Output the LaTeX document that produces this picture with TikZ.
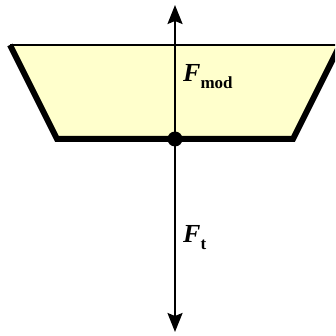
\documentclass[tikz,border=0pt]{standalone}
\usepackage{fontspec}
\setmainfont{Liberation Serif}
\definecolor{amareloPeca}{RGB}{255,255,204}
\usetikzlibrary{arrows.meta,positioning}
\newcommand{\indice}[1]{\raisebox{-7pt}{\fontsize{17}{19}\selectfont\bfseries #1}}
\tikzset{
  peca/.style={fill=amareloPeca, draw=none},
  borda/.style={line width=6pt, line join=miter, black},
  bordafina/.style={line width=2.5pt, black},
  ponto/.style={circle, fill=black, inner sep=0pt, minimum size=15pt},
  forca/.style={-{Stealth[length=19pt, width=15pt, inset=3pt]}, line width=2pt},
  rotulo/.style={font=\fontsize{26}{28}\selectfont\bfseries, inner sep=0pt},
}

\begin{document}
\begin{tikzpicture}[x=1pt, y=-1pt]
  \useasboundingbox (0,0) rectangle (335,336);
  \clip (0,0) rectangle (335,336);
  \fill[peca] (10,45) -- (340,45) -- (293,139) -- (57,139) -- cycle;
  \draw[bordafina] (10,45) -- (340,45);
  \draw[borda] (10,45) -- (57,139) -- (293,139) -- (340,45);
  \node[ponto] (p) at (175,139) {};
  \coordinate (cima) at (175,5);
  \coordinate (baixo) at (175,332);
  \draw[forca] (p.center) -- (cima);
  \draw[forca] (p.center) -- (baixo);
  \node[rotulo, anchor=base west] (fmod) at (183,82) {\textit{F}\indice{mod}};
  \node[rotulo, anchor=base west] (ft) at (183,242) {\textit{F}\indice{t}};
\end{tikzpicture}
\end{document}
